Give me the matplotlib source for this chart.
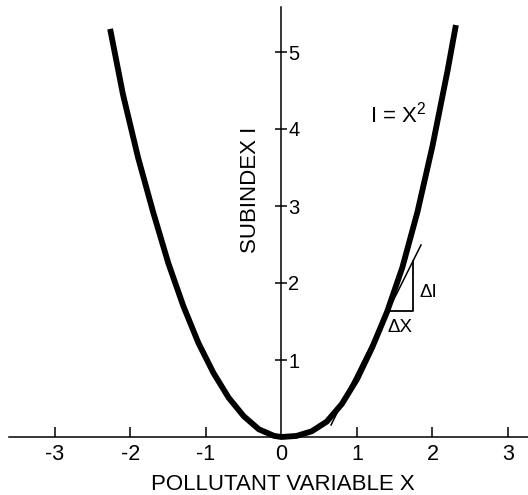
import matplotlib
matplotlib.use("Agg")
import matplotlib.pyplot as plt

plt.rcParams['font.family'] = ['Liberation Sans', 'DejaVu Sans']
plt.rcParams['mathtext.fontset'] = 'custom'
plt.rcParams['mathtext.rm'] = 'Liberation Sans'
plt.rcParams['mathtext.it'] = 'Liberation Sans'
plt.rcParams['mathtext.default'] = 'regular'

# Curve I = X^2 as drawn
curve_x = [-2.27, -2.1, -1.9, -1.7, -1.5, -1.3, -1.1, -0.9, -0.7, -0.5, -0.3, -0.1, 0.0,
           0.2, 0.4, 0.6, 0.8, 1.0, 1.2, 1.4, 1.6, 1.8, 2.0, 2.2, 2.31]
curve_i = [5.30, 4.45, 3.63, 2.92, 2.26, 1.70, 1.22, 0.83, 0.51, 0.27, 0.10, 0.015, 0.0,
           0.014, 0.074, 0.20, 0.43, 0.75, 1.16, 1.63, 2.20, 2.92, 3.78, 4.76, 5.35]

# Tangent line and slope triangle
tangent_x = [0.656, 1.848]
tangent_i = [0.156, 2.494]
triangle_x = [1.411, 1.746, 1.746]
triangle_i = [1.630, 1.630, 2.285]

x_ticks = [-3, -2, -1, 0, 1, 2, 3]
x_tick_labels = ["-3", "-2", "-1", "0", "1", "2", "3"]
y_ticks = [1, 2, 3, 4, 5]
y_tick_labels = ["1", "2", "3", "4", "5"]

fig = plt.figure(figsize=(5.28, 4.95), dpi=100)
ax = fig.add_axes([0, 0, 1, 1])

x0_px, xs = 281.5, 75.5
y0_px, ys = 437.0, 77.0
ax.set_xlim((0 - x0_px) / xs, (528 - x0_px) / xs)
ax.set_ylim((y0_px - 495) / ys, (y0_px - 0) / ys)

ax.plot(curve_x, curve_i, color='black', lw=4.2, solid_capstyle='butt',
        solid_joinstyle='round')
ax.plot(tangent_x, tangent_i, color='black', lw=1.1)
ax.plot(triangle_x, triangle_i, color='black', lw=1.3)

# spines
ax.spines['top'].set_visible(False)
ax.spines['left'].set_visible(False)
ax.spines['bottom'].set_position(('data', 0))
ax.spines['right'].set_position(('data', 0))
ax.spines['bottom'].set_bounds((9 - x0_px) / xs, (528 - x0_px) / xs)
ax.spines['right'].set_bounds(0, (y0_px - 7) / ys)
ax.spines['bottom'].set_linewidth(1.1)
ax.spines['right'].set_linewidth(1.1)

ax.set_xticks(x_ticks)
ax.set_xticklabels(x_tick_labels)
ax.xaxis.set_ticks_position('bottom')
ax.tick_params(axis='x', direction='in', length=7.2, width=1.1, pad=5, labelsize=15.5)
for tick in ax.xaxis.get_major_ticks():
    if tick.get_loc() == 0:
        tick.tick1line.set_visible(False)

ax.yaxis.tick_right()
ax.set_yticks(y_ticks)
ax.set_yticklabels(y_tick_labels)
ax.tick_params(axis='y', direction='inout', length=8.6, width=1.1, pad=0.5, labelsize=14.5)

ax.set_xlabel("POLLUTANT VARIABLE X", fontsize=16, va='center')
ax.xaxis.set_label_coords(283 / 528, 1 - 485 / 495)
ax.yaxis.set_label_position('left')
ax.set_ylabel("SUBINDEX I", fontsize=16, rotation=90)
ax.yaxis.label.set_va('center')
ax.yaxis.label.set_ha('center')
ax.yaxis.set_label_coords(250 / 528, 1 - 190 / 495)

ax.text((370 - x0_px) / xs, (y0_px - 122) / ys, r"I = X$^{2}$", fontsize=16,
        ha='left', va='baseline')
ax.text((420 - x0_px) / xs, (y0_px - 297) / ys, "ΔI", fontsize=13.5,
        ha='left', va='baseline')
ax.text((388 - x0_px) / xs, (y0_px - 332) / ys, "ΔX", fontsize=13.5,
        ha='left', va='baseline')

fig.savefig("out.png", dpi=100)
